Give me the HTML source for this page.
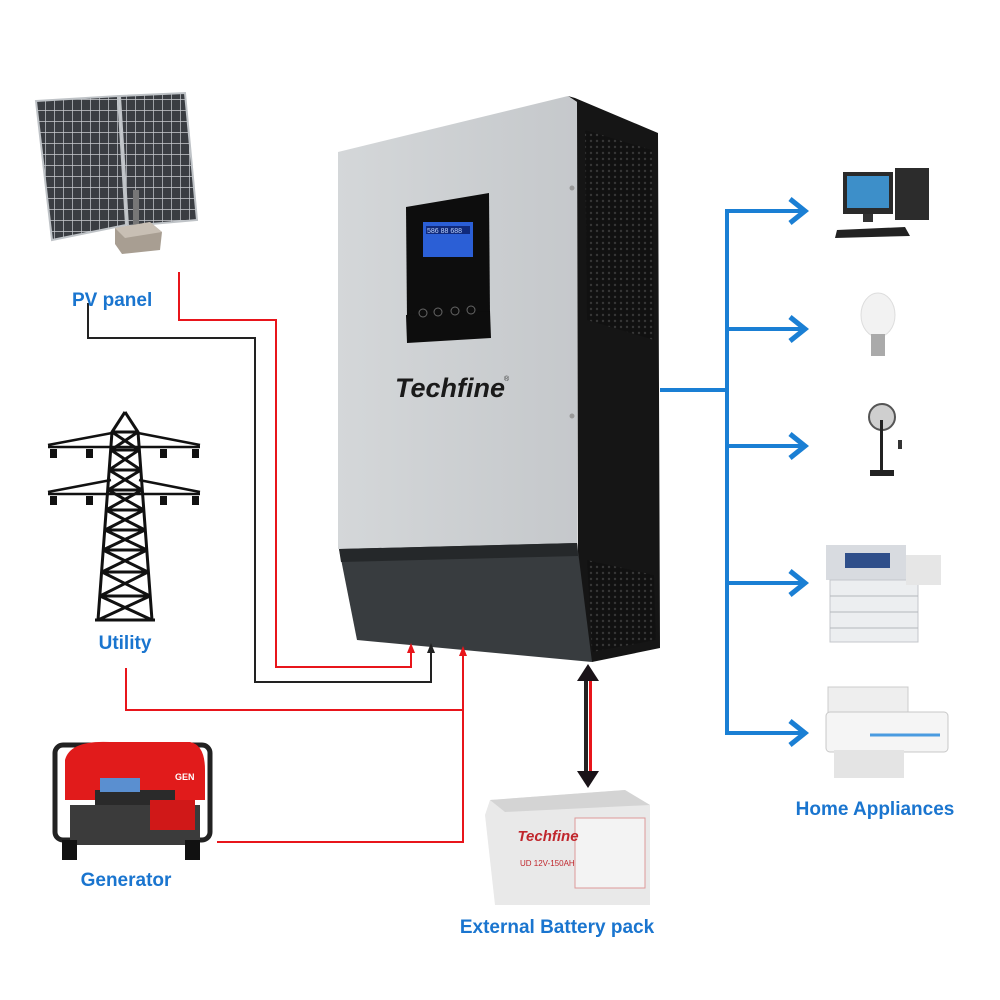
<!DOCTYPE html>
<html><head><meta charset="utf-8"><style>
html,body{margin:0;padding:0;background:#fff;}
svg{display:block;}
text{font-family:"Liberation Sans",Arial,sans-serif;}
</style></head><body>
<svg width="1000" height="1000" viewBox="0 0 1000 1000" xmlns="http://www.w3.org/2000/svg">
<defs>
<pattern id="grid" width="9" height="11" patternUnits="userSpaceOnUse"><rect width="9" height="11" fill="#3a3d42"/><path d="M0 0H9M0 0V11" stroke="#c9ccd0" stroke-width="1.4"/></pattern>
<pattern id="holes" width="6" height="6" patternUnits="userSpaceOnUse"><rect width="6" height="6" fill="#111"/><circle cx="3" cy="3" r="1.2" fill="#3a3a3a"/></pattern>
<linearGradient id="front" x1="0" y1="0" x2="1" y2="0"><stop offset="0" stop-color="#d4d7d9"/><stop offset="1" stop-color="#c5c8cb"/></linearGradient>
</defs>

<!-- Solar panel -->
<polygon points="36,101 118,96 126,225 52,240" fill="url(#grid)" stroke="#bfc3c7" stroke-width="2"/>
<polygon points="120,96 185,93 197,220 128,226" fill="url(#grid)" stroke="#bfc3c7" stroke-width="2"/>
<rect x="133" y="190" width="6" height="40" fill="#777"/>
<polygon points="115,228 150,222 162,232 160,250 122,254 115,244" fill="#a89e92"/>
<polygon points="115,228 150,222 162,232 125,238" fill="#c8bfb4"/>

<!-- Tower -->
<g stroke="#111" stroke-width="3" fill="none">
<path d="M125 412 L112 432 L98 620 M125 412 L138 432 L152 620"/>
<path d="M112 432 H138 M111 450 H139 M109 470 H141 M108 490 H142 M106 510 H144 M105 530 H145 M103 550 H147 M102 572 H148 M100 596 H150"/>
<path d="M112 432 L139 450 M138 432 L111 450 M111 450 L141 470 M139 450 L109 470 M109 470 L142 490 M141 470 L108 490 M108 490 L144 510 M142 490 L106 510 M106 510 L145 530 M144 510 L105 530 M105 530 L147 550 M145 530 L103 550 M103 550 L148 572 M147 550 L102 572 M102 572 L150 596 M148 572 L100 596 M100 596 L152 620 M150 596 L98 620"/>
<path d="M48 445 L112 433 M138 433 L200 445 M48 447 H200 M48 492 L111 480 M139 480 L200 492 M48 494 H200" stroke-width="2.5"/>
<path d="M95 620 H155" stroke-width="3"/>
</g>
<g fill="#111">
<rect x="50" y="449" width="7" height="9"/><rect x="86" y="449" width="7" height="9"/><rect x="160" y="449" width="7" height="9"/><rect x="192" y="449" width="7" height="9"/>
<rect x="50" y="496" width="7" height="9"/><rect x="86" y="496" width="7" height="9"/><rect x="160" y="496" width="7" height="9"/><rect x="192" y="496" width="7" height="9"/>
</g>

<!-- Generator -->
<rect x="55" y="745" width="155" height="95" rx="8" fill="none" stroke="#222" stroke-width="5"/>
<path d="M65 760 Q70 740 110 742 L190 742 Q205 745 205 770 L205 800 L65 800 Z" fill="#e11b1b"/>
<rect x="95" y="790" width="80" height="20" fill="#2a2a2a"/>
<rect x="100" y="778" width="40" height="14" fill="#5a8fd0"/>
<rect x="70" y="805" width="130" height="40" fill="#3b3b3b"/>
<rect x="150" y="800" width="45" height="30" fill="#d01818"/>
<rect x="62" y="840" width="15" height="20" fill="#111"/><rect x="185" y="840" width="15" height="20" fill="#111"/>
<text x="175" y="780" font-size="9" fill="#fff" font-weight="bold">GEN</text>

<!-- Inverter -->
<polygon points="568,96 575,98 658,133 660,648 592,662 578,612 577,102" fill="#151515"/>
<polygon points="585,130 652,150 654,340 587,320" fill="url(#holes)" opacity="0.9"/>
<polygon points="587,560 654,575 656,640 592,652" fill="url(#holes)" opacity="0.9"/>
<polygon points="338,152 568,96 577,102 577,544 338,549" fill="url(#front)"/>
<polygon points="339,549 577,543 592,662 357,640" fill="#383c3f"/>
<polygon points="339,549 577,543 578,556 341,562" fill="#25282a"/>
<circle cx="572" cy="188" r="2.5" fill="#999"/><circle cx="572" cy="416" r="2.5" fill="#999"/>
<polygon points="406,207 489,193 490,315 407,320" fill="#0d0d0d"/>
<polygon points="406,315 490,311 491,338 407,343" fill="#0d0d0d"/>
<rect x="423" y="222" width="50" height="35" fill="#2b5fd6"/>
<rect x="426" y="226" width="44" height="8" fill="#102a7c"/>
<text x="427" y="233" font-size="7" fill="#bcd4ff" font-family="Liberation Mono">586 88 688</text>
<g fill="none" stroke="#666" stroke-width="1"><circle cx="423" cy="313" r="4"/><circle cx="438" cy="312" r="4"/><circle cx="455" cy="311" r="4"/><circle cx="471" cy="310" r="4"/></g>
<text x="450" y="397" font-size="27" font-family="Liberation Serif" font-weight="bold" font-style="italic" fill="#1a1a1a" text-anchor="middle">Techfine</text>
<text x="504" y="381" font-size="7" fill="#333">®</text>

<!-- Wires -->
<g fill="none" stroke-width="2">
<path d="M179 272 V320 H276 V667 H411 V652" stroke="#e8151b"/>
<path d="M88 303 V338 H255 V682 H431 V652" stroke="#222"/>
<path d="M126 668 V710 H463 V655" stroke="#e8151b"/>
<path d="M217 842 H463 V710" stroke="#e8151b"/>
</g>
<polygon points="411,643 407,653 415,653" fill="#e8151b"/>
<polygon points="431,643 427,653 435,653" fill="#222"/>
<polygon points="463,646 459,656 467,656" fill="#e8151b"/>

<!-- Battery arrows -->
<rect x="584" y="680" width="4" height="92" fill="#222"/>
<rect x="589" y="680" width="3" height="92" fill="#e8151b"/>
<polygon points="588,664 577,681 599,681" fill="#1a1318"/>
<polygon points="588,788 577,771 599,771" fill="#1a1318"/>

<!-- Battery -->
<polygon points="490,800 625,790 650,805 650,905 495,905 485,815" fill="#e9e9e9"/>
<polygon points="490,800 625,790 650,805 505,812" fill="#d4d4d4"/>
<rect x="575" y="818" width="70" height="70" fill="#f3f3f3" stroke="#d99" stroke-width="1"/>
<text x="548" y="841" font-size="15" font-family="Liberation Serif" font-weight="bold" font-style="italic" fill="#c0262c" text-anchor="middle">Techfine</text>
<text x="520" y="866" font-size="8" fill="#c0262c">UD 12V-150AH</text>

<!-- Blue tree -->
<g stroke="#1a7fd4" stroke-width="4" fill="none">
<path d="M660 390 H727 M727 209 V735"/>
<path d="M727 211 H804 M727 329 H804 M727 446 H804 M727 583 H804 M727 733 H804"/>
<g stroke-width="5"><path d="M790 199 L805 211 L790 223 M790 317 L805 329 L790 341 M790 434 L805 446 L790 458 M790 571 L805 583 L790 595 M790 721 L805 733 L790 745"/></g>
</g>

<!-- Appliances -->
<rect x="843" y="172" width="50" height="42" fill="#2a2a2a"/><rect x="847" y="176" width="42" height="32" fill="#3d8fc9"/>
<rect x="863" y="214" width="10" height="8" fill="#333"/>
<rect x="895" y="168" width="34" height="52" fill="#2c2c2c"/>
<polygon points="837,230 905,227 910,236 835,238" fill="#222"/>
<ellipse cx="878" cy="315" rx="17" ry="22" fill="#f2f2f2" stroke="#ddd"/>
<rect x="871" y="334" width="14" height="22" fill="#aaa"/>
<circle cx="882" cy="417" r="13" fill="#cfcfcf" stroke="#555" stroke-width="2"/>
<rect x="880" y="420" width="3" height="52" fill="#222"/><rect x="870" y="470" width="24" height="6" fill="#222"/>
<rect x="898" y="440" width="4" height="9" fill="#333"/>
<rect x="826" y="545" width="80" height="35" fill="#d8dbe0"/>
<rect x="845" y="553" width="45" height="15" fill="#2f4f8a"/>
<rect x="830" y="580" width="88" height="62" fill="#eceef0" stroke="#c4c7cb"/>
<path d="M830 596 H918 M830 612 H918 M830 628 H918" stroke="#b5b8bc"/>
<rect x="906" y="555" width="35" height="30" fill="#e6e6e6"/>
<rect x="828" y="687" width="80" height="45" fill="#eeeeee" stroke="#ccc"/>
<rect x="826" y="712" width="122" height="40" rx="4" fill="#f5f5f5" stroke="#c8c8c8"/>
<path d="M870 735 H940" stroke="#4a9be0" stroke-width="3"/>
<rect x="834" y="750" width="70" height="28" fill="#e4e4e4"/>

<!-- Labels -->
<g font-weight="bold" fill="#1a75cf" font-size="19">
<text x="72" y="306">PV panel</text>
<text x="125" y="649" text-anchor="middle">Utility</text>
<text x="126" y="886" text-anchor="middle">Generator</text>
<text x="557" y="933" text-anchor="middle">External Battery pack</text>
<text x="875" y="815" text-anchor="middle">Home Appliances</text>
</g>
</svg>
</body></html>
